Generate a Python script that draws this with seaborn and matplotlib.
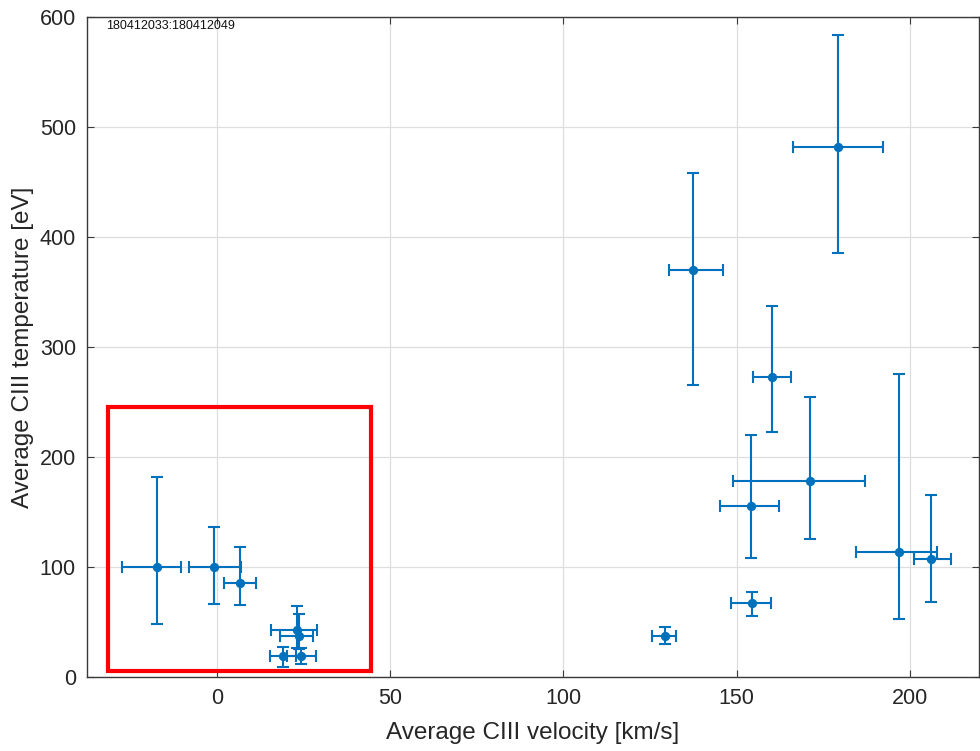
import numpy as np
import pandas as pd
import matplotlib
matplotlib.use("Agg")
import matplotlib.pyplot as plt
from matplotlib.patches import Rectangle
import seaborn as sns

# Average CIII velocity [km/s] and temperature [eV] per shot, with lower/upper bounds
velocity = [-17.2, -0.9, 6.7, 23.0, 23.7, 19.0, 24.2,
            137.5, 179.3, 160.2, 171.3, 154.1, 196.9, 206.1, 154.4, 129.4]
velocity_lo = [-27.5, -8.0, 2.0, 15.5, 18.2, 15.2, 20.1,
               130.6, 166.4, 154.7, 148.9, 145.3, 184.5, 201.3, 148.4, 125.7]
velocity_hi = [-10.4, 7.1, 11.3, 28.9, 27.8, 22.9, 28.5,
               146.2, 192.3, 165.8, 187.1, 162.3, 208.0, 211.9, 159.9, 132.5]
temperature = [100, 100, 85, 43, 37, 19, 19,
               370, 482, 273, 178, 155, 114, 107, 67, 37]
temperature_lo = [48, 66, 65, 26, 25, 9.5, 11.5,
                  265, 385, 223, 125.5, 108, 52.5, 68, 55, 30]
temperature_hi = [182, 136, 118, 64.5, 57, 27, 26,
                  458, 583, 337, 254, 219.5, 275.5, 165, 77, 45]

x_ticks = [0, 50, 100, 150, 200]
y_ticks = [0, 100, 200, 300, 400, 500, 600]
shot_range = "180412033:180412049"

df = pd.DataFrame({
    "v": velocity, "v_lo": velocity_lo, "v_hi": velocity_hi,
    "T": temperature, "T_lo": temperature_lo, "T_hi": temperature_hi,
})

sns.set_theme(style="whitegrid")
plt.rcParams["font.family"] = ["Liberation Sans", "DejaVu Sans"]

blue = "#0072BD"
text_col = "#262626"

fig = plt.figure(figsize=(9.8, 7.51), dpi=100)
ax = fig.add_axes([87 / 980, 74 / 751, 892 / 980, 660.3 / 751])

xerr = np.vstack([df["v"] - df["v_lo"], df["v_hi"] - df["v"]])
yerr = np.vstack([df["T"] - df["T_lo"], df["T_hi"] - df["T"]])
ax.errorbar(df["v"], df["T"], xerr=xerr, yerr=yerr, fmt="none",
            ecolor=blue, elinewidth=1.5, capsize=4, capthick=1.5, zorder=3)
sns.scatterplot(data=df, x="v", y="T", ax=ax, color=blue, s=45,
                edgecolor=blue, linewidth=0, zorder=4)

# highlight box around the low-velocity group
ax.add_patch(Rectangle((-31.5, 5), 76.0, 240, fill=False,
                       edgecolor="#FF0000", linewidth=3, zorder=5))

ax.set_xlim(-37.5, 220)
ax.set_ylim(0, 600)
ax.set_xticks(x_ticks)
ax.set_yticks(y_ticks)
ax.grid(True, color="#DEDEDE", linewidth=0.9)
for s in ax.spines.values():
    s.set_color("#3A3A3A")
    s.set_linewidth(1.0)
ax.tick_params(axis="both", direction="in", length=5, width=0.8,
               colors="#3A3A3A", labelcolor=text_col, labelsize=15.5,
               top=True, right=True, left=True, bottom=True, pad=8)

ax.set_xlabel("Average CIII velocity [km/s]", fontsize=17.5, color=text_col, labelpad=9)
ax.set_ylabel("Average CIII temperature [eV]", fontsize=17.5, color=text_col, labelpad=4)

ax.text(0.021, 0.995, shot_range, transform=ax.transAxes, fontsize=9,
        ha="left", va="top", color="#111111")

fig.savefig("out.png", dpi=100)
